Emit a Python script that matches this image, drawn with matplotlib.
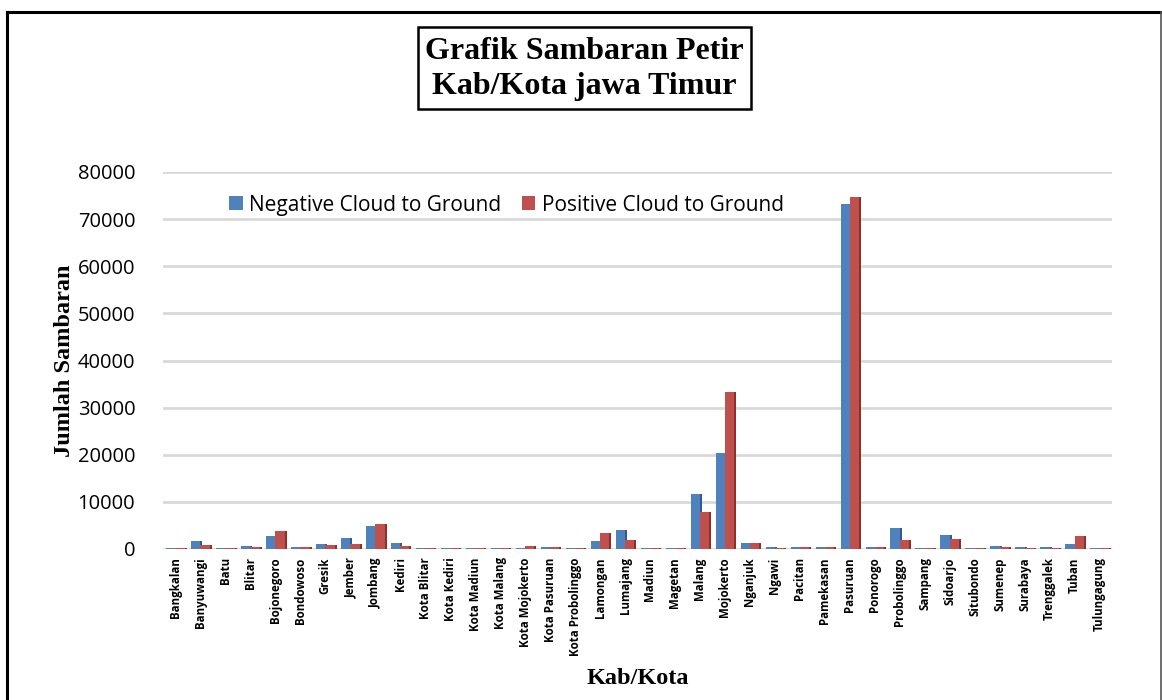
import matplotlib
matplotlib.use("Agg")
import matplotlib.pyplot as plt
import numpy as np
from matplotlib.lines import Line2D
from matplotlib.patches import Rectangle

categories = ["Bangkalan", "Banyuwangi", "Batu", "Blitar", "Bojonegoro", "Bondowoso",
              "Gresik", "Jember", "Jombang", "Kediri", "Kota Blitar", "Kota Kediri",
              "Kota Madiun", "Kota Malang", "Kota Mojokerto", "Kota Pasuruan",
              "Kota Probolinggo", "Lamongan", "Lumajang", "Madiun", "Magetan", "Malang",
              "Mojokerto", "Nganjuk", "Ngawi", "Pacitan", "Pamekasan", "Pasuruan",
              "Ponorogo", "Probolinggo", "Sampang", "Sidoarjo", "Situbondo", "Sumenep",
              "Surabaya", "Trenggalek", "Tuban", "Tulungagung"]

negative_cg = [300, 1600, 300, 700, 2800, 500, 1100, 2300, 4800, 1200, 200, 200,
               200, 300, 300, 500, 300, 1600, 4100, 300, 200, 11600,
               20400, 1200, 400, 500, 400, 73300,
               500, 4400, 200, 3000, 300, 600,
               400, 500, 1000, 300]
positive_cg = [300, 900, 300, 400, 3900, 400, 900, 1100, 5300, 700, 200, 200,
               250, 300, 600, 500, 200, 3500, 2000, 300, 200, 7800,
               33300, 1200, 300, 400, 400, 74600,
               500, 2000, 200, 2200, 300, 400,
               300, 300, 2800, 300]

yticks = [0, 10000, 20000, 30000, 40000, 50000, 60000, 70000, 80000]
series_names = ["Negative Cloud to Ground", "Positive Cloud to Ground"]
colors = ["#4F81BD", "#C0504D"]
dark = ["#2E5C8F", "#8E2F2C"]

W, H = 1162, 700
fig = plt.figure(figsize=(W / 100, H / 100), dpi=100)
ax = fig.add_axes([163 / W, 1 - 549 / H, (1112 - 163) / W, (549 - 172) / H])

x = np.arange(len(categories))
bw = 0.37
for i, vals in enumerate([negative_cg, positive_cg]):
    off = (i - 0.5) * bw
    ax.bar(x + off, vals, width=bw, color=colors[i], zorder=3, label=series_names[i])
    # thin darker side for 3D look
    ax.bar(x + off + bw / 2 + 0.04, vals, width=0.08, color=dark[i], zorder=2)

ax.set_xlim(-0.5, len(categories) - 0.5)
ax.set_ylim(0, 80000)
ax.set_yticks(yticks)
ax.set_yticklabels([str(v) for v in yticks], fontsize=14.5, family="Open Sans")
ax.set_xticks(x)
ax.set_xticklabels(categories, rotation=90, fontsize=8.3, family="Open Sans",
                   fontweight="bold")
ax.tick_params(axis="both", length=0)
ax.tick_params(axis="x", pad=6)
ax.tick_params(axis="y", pad=20)
ax.grid(axis="y", color="#D9D9D9", linewidth=2, zorder=0)
ax.set_axisbelow(True)
for s in ax.spines.values():
    s.set_visible(False)

leg = ax.legend(loc="upper left", bbox_to_anchor=(0.05, 0.99), ncol=2, frameon=False,
                prop={"family": "Open Sans", "size": 15}, handlelength=0.65,
                handleheight=0.65, handletextpad=0.3, columnspacing=1.0)

ax.set_ylabel("Jumlah Sambaran", family="Liberation Serif", fontweight="bold",
              fontsize=17.5, labelpad=2)
fig.text(638 / W, 1 - 678 / H, "Kab/Kota", family="Liberation Serif",
         fontweight="bold", fontsize=17.5, ha="center", va="center")

# title box
fig.patches.append(Rectangle((418 / W, 1 - 109 / H), (751 - 418) / W, (109 - 27) / H,
                             transform=fig.transFigure, fill=False, edgecolor="black",
                             linewidth=1.8))
fig.text(584 / W, 1 - 69 / H, "Grafik Sambaran Petir\nKab/Kota jawa Timur",
         family="Liberation Serif", fontweight="bold", fontsize=23, ha="center",
         va="center", linespacing=1.3)

# outer border
fig.add_artist(Line2D([7 / W, 7 / W], [0, 1 - 12 / H], transform=fig.transFigure,
                      color="black", linewidth=2.2))
fig.add_artist(Line2D([7 / W, 1161 / W], [1 - 12 / H, 1 - 12 / H],
                      transform=fig.transFigure, color="black", linewidth=2.2))
fig.add_artist(Line2D([1160.5 / W, 1160.5 / W], [0, 1 - 12 / H], transform=fig.transFigure,
                      color="#555555", linewidth=1.2))

fig.savefig("out.png", dpi=100)
